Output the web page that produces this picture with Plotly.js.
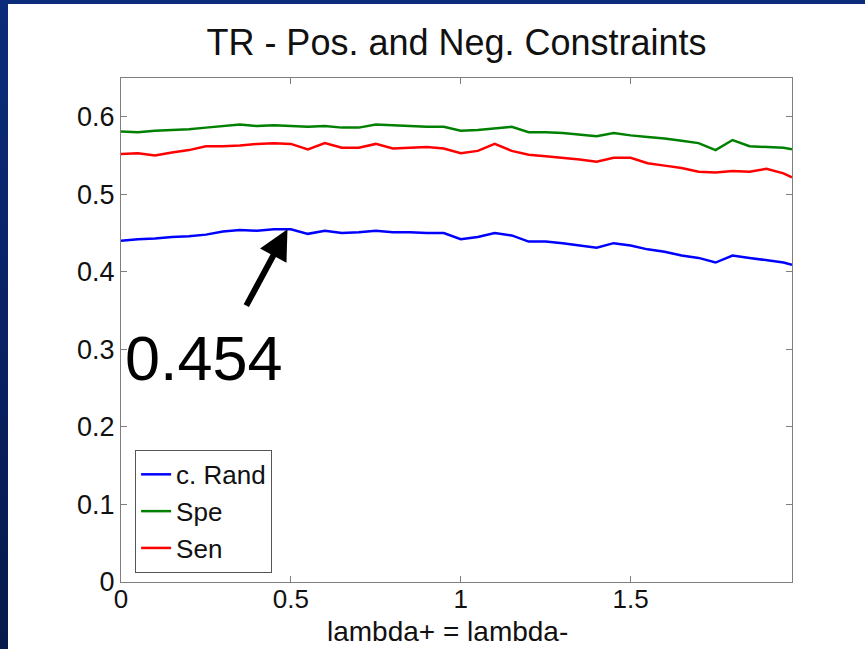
<!DOCTYPE html>
<html>
<head>
<meta charset="utf-8">
<script src="https://cdn.plot.ly/plotly-3.0.1.min.js"></script>
<style>
html,body{margin:0;padding:0;width:865px;height:649px;overflow:hidden;
background:linear-gradient(to bottom,#0b2b7b 0%,#08205f 60%,#061a4a 100%);}
#chart{position:absolute;left:8px;top:4px;width:857px;height:645px;background:#fff;}
</style>
</head>
<body>
<div id="chart"></div>
<script>
var lambdaVals = [0,0.05,0.1,0.15,0.2,0.25,0.3,0.35,0.4,0.45,0.5,0.55,0.6,0.65,0.7,0.75,0.8,0.85,0.9,0.95,
  1.0,1.05,1.1,1.15,1.2,1.25,1.3,1.35,1.4,1.45,1.5,1.55,1.6,1.65,1.7,1.75,1.8,1.85,1.9,1.95,1.975];
var cRand = [0.440,0.442,0.443,0.445,0.446,0.448,0.452,0.454,0.453,0.455,0.455,0.449,0.453,0.450,0.451,0.453,0.451,0.451,0.450,0.450,
  0.442,0.445,0.450,0.447,0.439,0.439,0.437,0.434,0.431,0.437,0.434,0.429,0.426,0.421,0.418,0.412,0.421,0.418,0.415,0.412,0.409];
var spe = [0.581,0.580,0.582,0.583,0.584,0.586,0.588,0.590,0.588,0.589,0.588,0.587,0.588,0.586,0.586,0.590,0.589,0.588,0.587,0.587,
  0.582,0.583,0.585,0.587,0.580,0.580,0.579,0.577,0.575,0.579,0.576,0.574,0.572,0.569,0.566,0.557,0.570,0.562,0.561,0.560,0.558];
var sen = [0.552,0.553,0.550,0.554,0.557,0.562,0.562,0.563,0.565,0.566,0.565,0.558,0.566,0.560,0.560,0.565,0.559,0.560,0.561,0.559,
  0.553,0.556,0.565,0.556,0.551,0.549,0.547,0.545,0.542,0.547,0.547,0.540,0.537,0.534,0.529,0.528,0.530,0.529,0.533,0.527,0.522];
var seriesNames = ['c. Rand','Spe','Sen'];
var xTickVals = [0,0.5,1,1.5];
var xTickText = ['0','0.5','1','1.5'];
var yTickVals = [0,0.1,0.2,0.3,0.4,0.5,0.6];
var yTickText = ['0','0.1','0.2','0.3','0.4','0.5','0.6'];
var xAxisTitle = 'lambda+ = lambda-';
var peakX = 0.49, peakY = 0.455, peakLabel = '0.454';

var FONT = '"Liberation Sans", Arial, Helvetica, sans-serif';
var colors = ['#0000ff','#008000','#ff0000'];
var ys = [cRand, spe, sen];
var traces = ys.map(function(y,i){
  return {x: lambdaVals, y: y, type:'scatter', mode:'lines', name: seriesNames[i],
    line:{color:colors[i], width:2.5}};
});

var axisCommon = {showline:true, linecolor:'#7f7f7f', linewidth:1, mirror:'ticks',
  ticks:'inside', ticklen:6, tickcolor:'#7f7f7f', showgrid:false, zeroline:false,
  tickfont:{family:FONT, size:27, color:'#111'}};

var layout = {
  width:857, height:645,
  margin:{l:113, r:73, t:74, b:67, pad:0},
  paper_bgcolor:'#fff', plot_bgcolor:'#fff',
  font:{family:FONT, color:'#111'},
  title:{text:'TR - Pos. and Neg. Constraints', font:{family:FONT, size:36, color:'#111'},
    xref:'paper', x:0.5, xanchor:'center', yref:'container', y:1-38/645, yanchor:'middle'},
  xaxis: Object.assign({}, axisCommon, {range:[0,1.975], tickvals:xTickVals, ticktext:xTickText,
    ticklabelstandoff:-6, tickfont:{family:FONT, size:26, color:'#111'}}),
  yaxis: Object.assign({}, axisCommon, {range:[0,0.65], tickvals:yTickVals, ticktext:yTickText}),
  legend:{x:0.021, y:0.018, xanchor:'left', yanchor:'bottom', bgcolor:'#fff',
    bordercolor:'#555', borderwidth:1, font:{family:FONT, size:26, color:'#111'},
    tracegroupgap:0, itemwidth:30},
  showlegend:true,
  annotations:[
    {x:0.487, y:-0.0992, xref:'paper', yref:'paper', text:xAxisTitle, showarrow:false,
     font:{family:FONT, size:28, color:'#111'}, xanchor:'center', yanchor:'middle', borderpad:0},
    {x:peakX, y:peakY, xref:'x', yref:'y', text:'', showarrow:true, ax:-42, ay:78,
     arrowhead:2, arrowsize:1, arrowwidth:6, arrowcolor:'#000', standoff:0},
    {x:0.244, y:0.289, xref:'x', yref:'y', text:peakLabel, showarrow:false,
     font:{family:FONT, size:63, color:'#000'}, xanchor:'center', yanchor:'middle'}
  ]
};
Plotly.newPlot('chart', traces, layout, {displayModeBar:false, staticPlot:true});
</script>
</body>
</html>
